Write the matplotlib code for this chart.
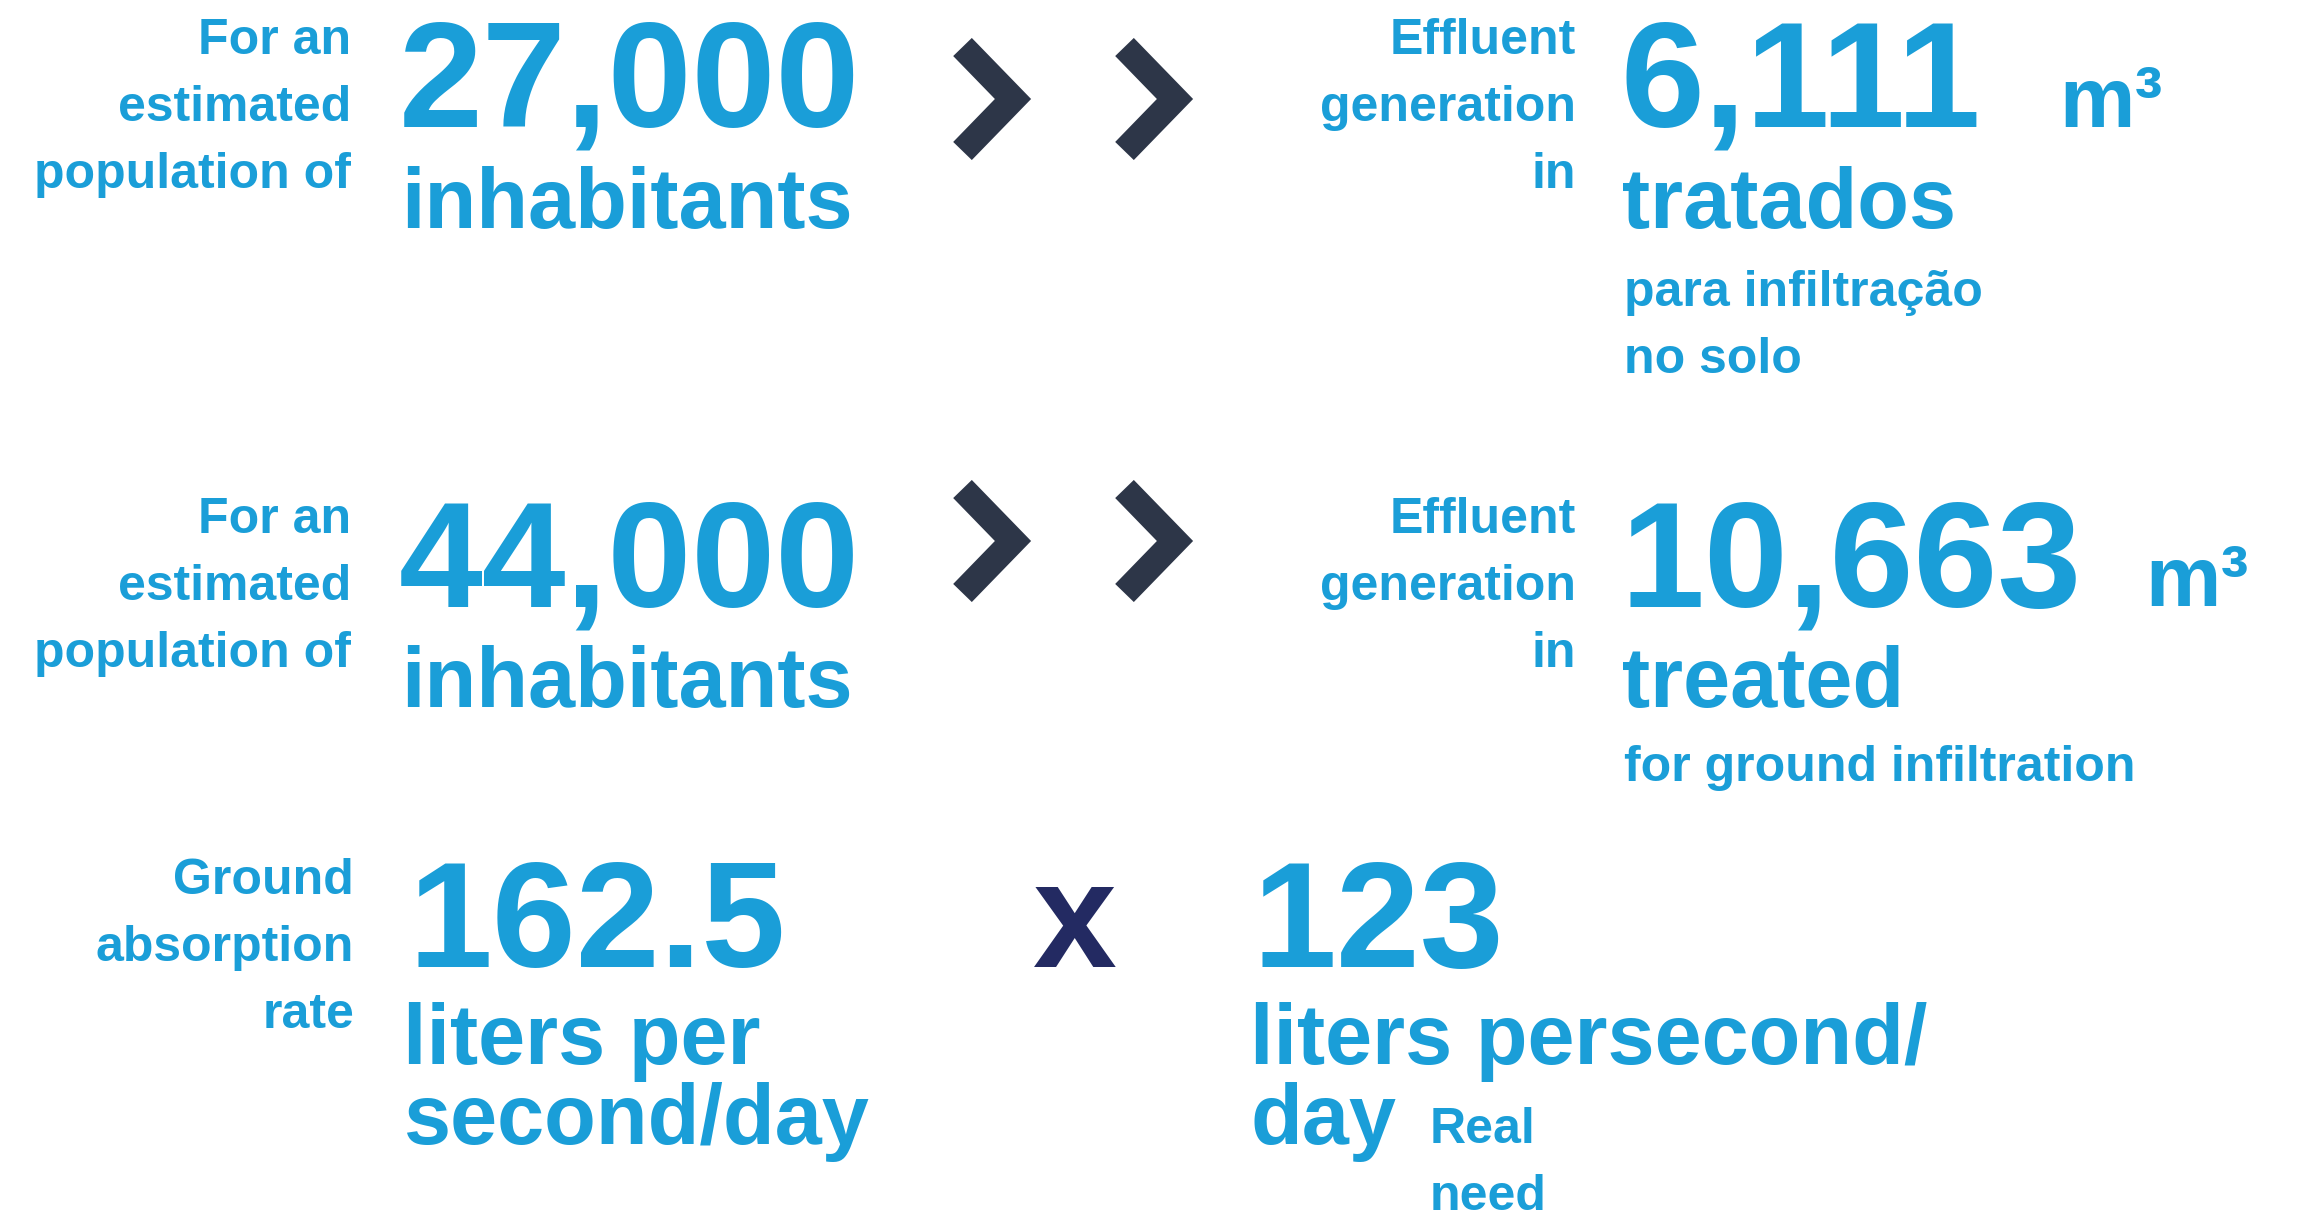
import matplotlib
matplotlib.use("Agg")
import matplotlib.pyplot as plt

populations = [27000, 44000]
effluent_m3 = [6111, 10663]
effluent_words = ["tratados", "treated"]
effluent_notes = [["para infiltração", "no solo"], ["for ground infiltration"]]
absorption_rate = 162.5
real_need = 123

BLUE = "#1a9ed8"
SLATE = "#2d3648"
NAVY = "#232a62"
BIG = 108.5
MED = 61
SMALL = 36
LINE = 67

plt.rcParams["font.family"] = ["Liberation Sans", "DejaVu Sans"]

fig = plt.figure(figsize=(23.1, 12.12), dpi=100)
ax = fig.add_axes([0, 0, 1, 1])
ax.set_xlim(0, 2310)
ax.set_ylim(1212, 0)
ax.axis("off")


def label(x, y, lines, ha="left", size=SMALL, color=BLUE):
    for i, s in enumerate(lines):
        ax.text(x, y + i * LINE, s, ha=ha, va="baseline", fontsize=size,
                fontweight="bold", color=color)


def big(x, y, s, size=BIG, color=BLUE):
    ax.text(x, y, s, fontsize=size, fontweight="bold", color=color,
            va="baseline")


def chevron(x, y):
    # x,y = top end of the stroke's centre line
    ax.plot([x, x + 50.5, x], [y, y + 52, y + 104], color=SLATE, lw=18.7,
            solid_capstyle="butt", solid_joinstyle="miter")


row_dy = 479
chev_y = [47, 489]
m3_x = [2059, 2145]
for r in range(2):
    dy = r * row_dy
    label(351, 54 + dy, ["For an", "estimated", "population of"], ha="right")
    big(399, 127 + dy, f"{populations[r]:,}")
    big(401, 228 + dy, "inhabitants", size=MED)
    chevron(962.5, chev_y[r])
    chevron(1124.5, chev_y[r])
    label(1576, 54 + dy, ["Effluent", "generation", "in"], ha="right")
    big(1620, 127 + dy, f"{effluent_m3[r]:,}")
    big(m3_x[r], 127 + dy, "m³", size=MED)
    big(1622, 228 + dy, effluent_words[r], size=MED)
    label(1624, 306 + dy - 4 * r, effluent_notes[r])

# third row
label(354, 894, ["Ground", "absorption", "rate"], ha="right")
big(409, 967, f"{absorption_rate}")
big(1033, 967, "x", color=NAVY)
big(1252, 967, f"{real_need}")
for i, s in enumerate(["liters per", "second/day"]):
    big(403, 1064 + i * 80, s, size=MED)
for i, s in enumerate(["liters persecond/", "day"]):
    big(1250, 1064 + i * 80, s, size=MED)
label(1430, 1143, ["Real", "need"])

fig.savefig("out.png", dpi=100, facecolor="white")
